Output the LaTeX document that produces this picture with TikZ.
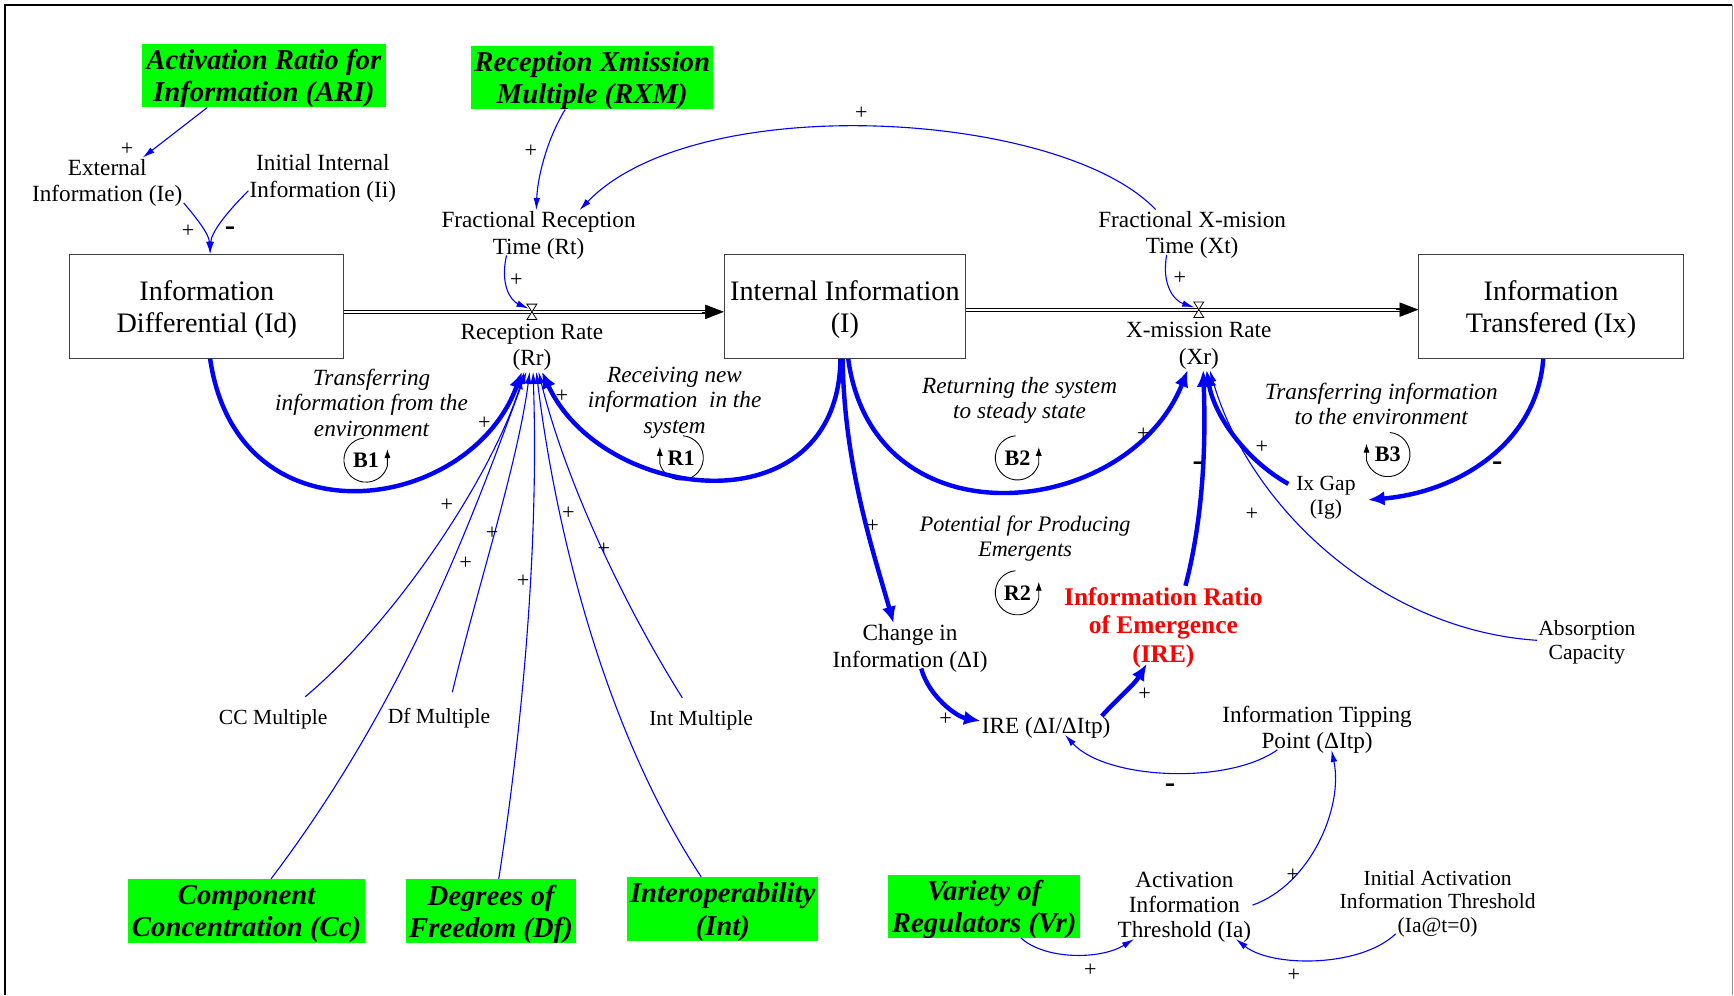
\documentclass[tikz,border=0pt]{standalone}
\usepackage{fontspec}
\setmainfont{Liberation Serif}
\usetikzlibrary{arrows.meta}
\definecolor{vgreen}{RGB}{0,255,0}
\definecolor{vblue}{RGB}{0,0,255}
\definecolor{vred}{RGB}{255,0,0}
\begin{document}
\begin{tikzpicture}[x=1pt,y=-1pt,
 var/.style={align=center, inner sep=1pt, text depth=0pt, font=\fontsize{21}{24}\selectfont},
 svar/.style={align=center, inner sep=1pt, text depth=0pt, font=\fontsize{19.5}{21.5}\selectfont},
 stock/.style={draw=black!75, line width=0.9pt, align=center, inner sep=0pt, text depth=0pt, minimum height=94pt, font=\fontsize{25.5}{29}\selectfont},
 gbox/.style={fill=vgreen, align=center, inner sep=0pt, text depth=0pt, minimum height=57pt, font=\fontsize{26}{29}\selectfont\bfseries\itshape},
 note/.style={align=center, inner sep=1pt, font=\fontsize{21}{23}\selectfont\itshape},
 loopid/.style={inner sep=0pt, font=\fontsize{20}{20}\selectfont\bfseries},
 loopc/.style={line width=0.8pt, -{Latex[length=8pt,width=5.5pt]}},
 pol/.style={inner sep=0pt, font=\fontsize{20}{20}\selectfont},
 neg/.style={inner sep=0pt, font=\fontsize{28}{28}\selectfont\bfseries},
 thinlink/.style={draw=vblue, line width=1pt, -{Latex[length=11pt,width=6pt]}},
 thicklink/.style={draw=vblue, line width=4pt, -{Latex[length=15pt,width=13pt]}},
 pipe/.style={draw=black, line width=0.9pt, double=white, double distance=2pt},
 pipetip/.style={draw=black, line width=0.5pt, -{Triangle[length=17pt,width=13pt]}},
 valve/.style={inner sep=0pt, minimum size=1pt},
 hourglass/.style={draw=black, fill=white, line width=0.7pt}
]
\useasboundingbox (0,0) rectangle (1568,900);
% frame
\draw[line width=2pt] (4.5,900) -- (4.5,4.5) -- (1566.5,4.5);
\draw[line width=1pt, black!45] (1566.5,4.5) -- (1566.5,900);

% green boxes
\node[gbox, minimum width=221pt] (ari) at (238.5,68.5) {Activation Ratio for\\Information (ARI)};
\node[gbox, minimum width=219pt] (rxm) at (535.5,70.5) {Reception Xmission\\Multiple (RXM)};
\node[gbox, minimum width=214pt, minimum height=58pt] (cc) at (223,824) {Component\\Concentration (Cc)};
\node[gbox, minimum width=154pt, minimum height=58pt] (df) at (444,824) {Degrees of\\Freedom (Df)};
\node[gbox, minimum width=173pt, minimum height=58pt] (intbox) at (653.5,822) {Interoperability\\(Int)};
\node[gbox, minimum width=174pt] (vr) at (890,819.5) {Variety of\\Regulators (Vr)};

% stocks
\node[stock, minimum width=248pt] (Id) at (187,277) {Information\\Differential (Id)};
\node[stock, minimum width=218pt] (I) at (764,277) {Internal Information\\(I)};
\node[stock, minimum width=239pt] (Ix) at (1402.5,277) {Information\\Transfered (Ix)};

% variables
\node[var] (Ie) at (97,163) {External\\Information (Ie)};
\node[var] (Ii) at (292,159) {Initial Internal\\Information (Ii)};
\node[var] (Rt) at (487,210.5) {Fractional Reception\\Time (Rt)};
\node[var] (Xt) at (1078,210) {Fractional X-mision\\Time (Xt)};
\node[var] (Rr) at (481,312) {Reception Rate\\(Rr)};
\node[var] (Xr) at (1084,310.5) {X-mission Rate\\(Xr)};
\node[svar] (Ig) at (1199,448) {Ix Gap\\(Ig)};
\node[var] (dI) at (823,584) {Change in\\Information (ΔI)};
\node[var] (ire) at (946,656) {IRE (ΔI/ΔItp)};
\node[var] (itp) at (1191,657.5) {Information Tipping\\Point (ΔItp)};
\node[svar] (abs) at (1435,579) {Absorption\\Capacity};
\node[svar] (ccm) at (247,648) {CC Multiple};
\node[svar] (dfm) at (397,647) {Df Multiple};
\node[svar] (intm) at (634,649) {Int Multiple};
\node[var, font=\fontsize{21}{22.5}\selectfont] (ia) at (1071,818.5) {Activation\\Information\\Threshold (Ia)};
\node[svar] (ia0) at (1300,815) {Initial Activation\\Information Threshold\\(Ia@t=0)};
\node[align=center, inner sep=1pt, text depth=0pt, text=vred, font=\fontsize{23}{26}\selectfont\bfseries] (irered) at (1052,565) {Information Ratio\\of Emergence\\(IRE)};

% loop notes
\node[note] (n1) at (336,364) {Transferring\\information from the\\environment};
\node[note] (n2) at (610,364) {Receiving new\\information\ \ in the\\system};
\node[note] (n3) at (922,362) {Returning the system\\to steady state};
\node[note] (n4) at (1249,365.5) {Transferring information\\to the environment};
\node[note, font=\fontsize{20}{22}\selectfont\itshape] (n5) at (927,487) {Potential for Producing\\Emergents};

% loop markers
\node[loopid] (b1) at (331,416) {B1};
\node[loopid] (r1) at (616,414) {R1};
\node[loopid] (b2) at (920,414) {B2};
\node[loopid] (b3) at (1255,411) {B3};
\node[loopid] (r2) at (920,536) {R2};
\begin{scope}[shift={(b1.center)}, y=1pt]
 \draw[loopc] (95:20) arc[start angle=95,end angle=345,radius=20] -- ++(0,15);
\end{scope}
\begin{scope}[shift={(b2.center)}, y=1pt]
 \draw[loopc] (95:20) arc[start angle=95,end angle=345,radius=20] -- ++(0,15);
\end{scope}
\begin{scope}[shift={(r2.center)}, y=1pt]
 \draw[loopc] (95:20) arc[start angle=95,end angle=345,radius=20] -- ++(0,15);
\end{scope}
\begin{scope}[shift={(r1.center)}, y=1pt]
 \draw[loopc] (85:20) arc[start angle=85,end angle=-165,radius=20] -- ++(0,15);
\end{scope}
\begin{scope}[shift={(b3.center)}, y=1pt]
 \draw[loopc] (85:20) arc[start angle=85,end angle=-165,radius=20] -- ++(0,15);
\end{scope}

% valves and pipes
\node[valve] (v1) at (481,282) {};
\node[valve] (v2) at (1084,280) {};
\draw[pipe] ([yshift=-5pt]Id.east) -- ([xshift=-15pt,yshift=-5pt]I.west);
\draw[pipetip] ([xshift=-20pt,yshift=-5pt]I.west) -- ([yshift=-5pt]I.west);
\draw[pipe] ([yshift=-3pt]I.east) -- ([xshift=-15pt,yshift=-3pt]Ix.west);
\draw[pipetip] ([xshift=-20pt,yshift=-3pt]Ix.west) -- ([yshift=-3pt]Ix.west);
\draw[hourglass] ([xshift=-4.5pt,yshift=7pt]v1.center) -- ([xshift=4.5pt,yshift=7pt]v1.center) -- ([xshift=-4.5pt,yshift=-7pt]v1.center) -- ([xshift=4.5pt,yshift=-7pt]v1.center) -- cycle;
\draw[hourglass] ([xshift=-4.5pt,yshift=7pt]v2.center) -- ([xshift=4.5pt,yshift=7pt]v2.center) -- ([xshift=-4.5pt,yshift=-7pt]v2.center) -- ([xshift=4.5pt,yshift=-7pt]v2.center) -- cycle;

% thick links
\draw[thicklink] ([xshift=3pt]Id.south) .. controls (215,495) and (425,465) .. ([xshift=-9pt,yshift=-4pt]Rr.south);
\draw[thicklink] ([xshift=-4pt]I.south) .. controls (758,480) and (545,455) .. ([xshift=9pt,yshift=-4pt]Rr.south);
\draw[thicklink] ([xshift=3pt]I.south) .. controls (790,495) and (1020,470) .. ([xshift=-10pt,yshift=-4pt]Xr.south);
\draw[thicklink] ([xshift=-2pt]I.south) .. controls (763,420) and (790,500) .. ([xshift=-15pt]dI.north);
\draw[thicklink] ([xshift=-7pt]Ix.south) .. controls (1390,400) and (1320,445) .. ([xshift=10pt,yshift=-4pt]Ig.east);
\draw[thicklink] ([xshift=-6pt,yshift=-8pt]Ig.north west) .. controls (1125,415) and (1098,375) .. ([xshift=7pt,yshift=-4pt]Xr.south);
\draw[thicklink] ([xshift=20pt]irered.north) .. controls (1090,460) and (1090,390) .. ([xshift=4pt,yshift=-4pt]Xr.south);
\draw[thicklink] ([xshift=10pt]dI.south) .. controls (840,630) and (865,648) .. ([yshift=4pt]ire.west);
\draw[thicklink] ([xshift=-9pt]ire.north east) .. controls (1010,632) and (1025,620) .. ([xshift=-15pt]irered.south);

% thin links
\draw[thinlink] ([xshift=-51pt]ari.south) -- ([xshift=32pt]Ie.north);
\draw[thinlink] ([xshift=-24.5pt]rxm.south) .. controls (495,125) and (486,160) .. ([xshift=-2pt]Rt.north);
\draw[thinlink] ([xshift=-33pt]Xt.north) .. controls (960,100) and (630,80) .. ([xshift=37pt]Rt.north);
\draw[thinlink] (Ie.south east) .. controls (180,200) and (189,212) .. ([xshift=3pt]Id.north);
\draw[thinlink] ([yshift=7pt]Ii.south west) .. controls (205,192) and (191,210) .. ([xshift=3pt]Id.north);
\draw[thinlink] ([xshift=-29pt]Rt.south) .. controls (452,258) and (462,272) .. ([xshift=-3pt,yshift=3pt]v1.center);
\draw[thinlink] ([xshift=-23pt]Xt.south) .. controls (1050,258) and (1062,272) .. ([xshift=-4pt,yshift=2pt]v2.center);
\draw[thinlink] ([xshift=29pt,yshift=10pt]ccm.north) .. controls (365,555) and (450,420) .. ([xshift=-7pt,yshift=-4pt]Rr.south);
\draw[thinlink] ([xshift=22pt]cc.north) .. controls (370,630) and (430,460) .. ([xshift=-5pt,yshift=-4pt]Rr.south);
\draw[thinlink] ([xshift=12pt,yshift=13pt]dfm.north) .. controls (432,530) and (468,420) .. ([xshift=-2pt,yshift=-4pt]Rr.south);
\draw[thinlink] ([xshift=7pt]df.north) .. controls (475,640) and (487,480) .. ([xshift=1pt,yshift=-4pt]Rr.south);
\draw[thinlink] ([xshift=-19.5pt]intbox.north) .. controls (540,650) and (500,460) .. ([xshift=4pt,yshift=-4pt]Rr.south);
\draw[thinlink] ([xshift=-17pt,yshift=10pt]intm.north) .. controls (560,540) and (510,430) .. ([xshift=6pt,yshift=-4pt]Rr.south);
\draw[thinlink] (abs.west) .. controls (1250,570) and (1130,460) .. ([xshift=10pt,yshift=-4pt]Xr.south);
\draw[thinlink] ([xshift=-36pt]itp.south) .. controls (1110,710) and (1000,705) .. ([xshift=17pt]ire.south);
\draw[thinlink] (ia.east) .. controls (1185,800) and (1215,730) .. ([xshift=13pt]itp.south);
\draw[thinlink] ([xshift=-54pt]vr.south east) .. controls (945,868) and (995,868) .. ([xshift=16pt]ia.south west);
\draw[thinlink] ([xshift=-38pt]ia0.south) .. controls (1230,875) and (1150,875) .. ([xshift=-15pt]ia.south east);

% polarity signs
\node[pol] (s1) at (115,135) {+};
\node[pol] (s2) at (480,137) {+};
\node[pol] (s3) at (779,102) {+};
\node[pol] (s4) at (170,209) {+};
\node[neg] (s5) at (208,209) {-};
\node[pol] (s6) at (467,253) {+};
\node[pol] (s7) at (1067,252) {+};
\node[pol] (s8) at (438,383) {+};
\node[pol] (s9) at (508,358) {+};
\node[pol] (s10) at (1034,393) {+};
\node[pol] (s11) at (789,476) {+};
\node[neg] (s12) at (1354,422) {-};
\node[pol] (s13) at (1141,404) {+};
\node[neg] (s14) at (1083,422) {-};
\node[pol] (s15) at (855,650) {+};
\node[pol] (s16) at (1035,628) {+};
\node[pol] (s17) at (404,457) {+};
\node[pol] (s18) at (445,482) {+};
\node[pol] (s19) at (421,509) {+};
\node[pol] (s20) at (473,526) {+};
\node[pol] (s21) at (514,464) {+};
\node[pol] (s22) at (546,497) {+};
\node[pol] (s23) at (1132,465) {+};
\node[neg] (s24) at (1058,713) {-};
\node[pol] (s25) at (1169,791) {+};
\node[pol] (s26) at (986,877) {+};
\node[pol] (s27) at (1170,882) {+};
\end{tikzpicture}
\end{document}
